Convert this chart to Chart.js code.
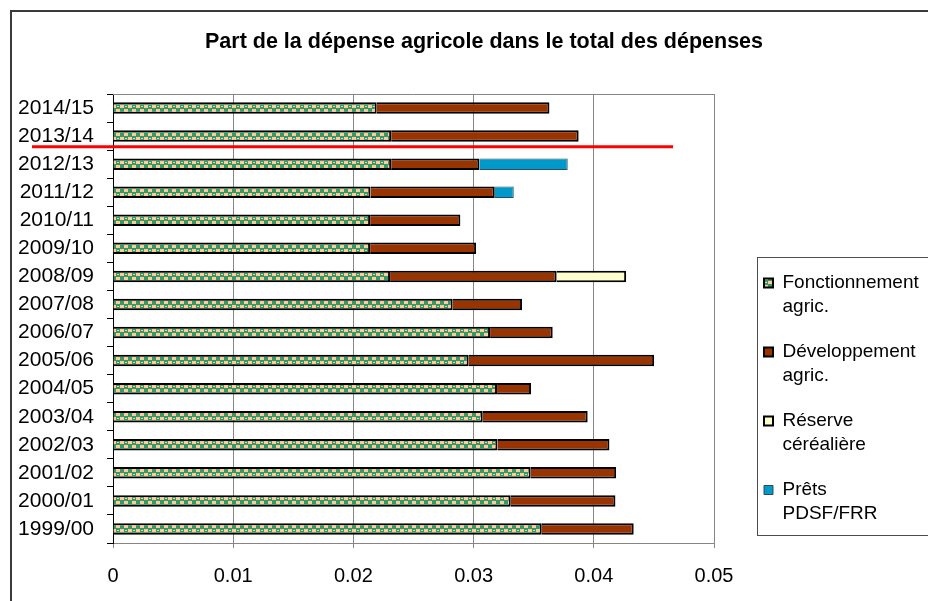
<!DOCTYPE html>
<html>
<head>
<meta charset="utf-8">
<script src="https://cdn.jsdelivr.net/npm/chart.js@4.4.1/dist/chart.umd.min.js"></script>
<style>
  html, body { margin: 0; padding: 0; background: #ffffff; }
  #wrap { width: 928px; height: 601px; }
</style>
</head>
<body>
<div id="wrap"><canvas id="chart" width="928" height="601"></canvas></div>
<script>
// Fiscal years, oldest first (the axis is reversed so the latest year sits on top)
const years = ['1999/00', '2000/01', '2001/02', '2002/03', '2003/04', '2004/05', '2005/06', '2006/07',
               '2007/08', '2008/09', '2009/10', '2010/11', '2011/12', '2012/13', '2013/14', '2014/15'];

// Share of total spending, per component
const fonctionnement = [0.03567, 0.03309, 0.03475, 0.03198, 0.03076, 0.03195, 0.02959, 0.03137,
                        0.02826, 0.02305, 0.02139, 0.02139, 0.02141, 0.02314, 0.02314, 0.02194];
const developpement  = [0.00765, 0.00871, 0.00711, 0.00932, 0.00873, 0.00283, 0.01543, 0.00521,
                        0.00577, 0.01386, 0.00882, 0.00751, 0.01035, 0.00734, 0.01560, 0.01437];
const reserve        = [null, null, null, null, null, null, null, null,
                        null, 0.00578, null, null, null, null, null, null];
const prets          = [null, null, null, null, null, null, null, null,
                        null, null, null, null, 0.00158, 0.00735, null, null];

const seriesNames = [
  ['Fonctionnement', 'agric.'],
  ['Développement', 'agric.'],
  ['Réserve', 'céréalière'],
  ['Prêts', 'PDSF/FRR']
];

const xTickLabels = ['0', '0.01', '0.02', '0.03', '0.04', '0.05'];

// Break marker between 2012/13 and 2013/14 (category position, and where it stops on the value axis)
const breakPosition = 13.62;
const breakEndValue = 0.0466;

const FONT = '"Liberation Sans", Arial, Helvetica, sans-serif';

// Green / peach checker fill for the operating-expense series
function checkerFill() {
  const tile = document.createElement('canvas');
  tile.width = 8; tile.height = 8;
  const g = tile.getContext('2d');
  g.fillStyle = '#339966';
  g.fillRect(0, 0, 8, 8);
  g.fillStyle = '#FFCC99';
  g.fillRect(0, 1, 4, 3);
  g.fillRect(4, 5, 4, 3);
  g.fillRect(5, 2, 2, 1);
  return document.getElementById('chart').getContext('2d').createPattern(tile, 'repeat');
}

const pageBackground = {
  id: 'pageBackground',
  beforeDraw(chart) {
    const ctx = chart.ctx;
    ctx.save();
    ctx.fillStyle = '#ffffff';
    ctx.fillRect(0, 0, chart.width, chart.height);
    // outer frame
    ctx.strokeStyle = '#3a3a3a';
    ctx.lineWidth = 2;
    ctx.strokeRect(11, 11, 1000, 700);
    // legend frame
    ctx.strokeStyle = '#4d4d4d';
    ctx.lineWidth = 1;
    ctx.strokeRect(757.5, 257.5, 300, 278);
    ctx.restore();
  }
};

const plotTopEdge = {
  id: 'plotTopEdge',
  beforeDatasetsDraw(chart) {
    const {ctx, chartArea} = chart;
    ctx.save();
    ctx.strokeStyle = '#868686';
    ctx.lineWidth = 1;
    ctx.beginPath();
    ctx.moveTo(chartArea.left, chartArea.top + 0.5);
    ctx.lineTo(chartArea.right, chartArea.top + 0.5);
    ctx.stroke();
    ctx.restore();
  }
};

// Place the title band and the legend block after the layout pass
const blockPlacement = {
  id: 'blockPlacement',
  afterLayout(chart) {
    const tb = chart.titleBlock;
    tb.left = 84;
    tb.right = 884;
    tb.width = tb.right - tb.left;

    const lg = chart.legend;
    const h = lg.height;
    lg.left = 743;
    lg.top = 252.5;
    lg.right = chart.width;
    lg.width = lg.right - lg.left;
    lg.bottom = lg.top + h;
  }
};

const breakLine = {
  id: 'breakLine',
  afterDraw(chart) {
    const {ctx, scales} = chart;
    const py = scales.y.getPixelForValue(breakPosition);
    const xEnd = scales.x.getPixelForValue(breakEndValue);
    ctx.save();
    ctx.strokeStyle = '#FF0000';
    ctx.lineWidth = 3;
    ctx.beginPath();
    ctx.moveTo(32, py);
    ctx.lineTo(xEnd, py);
    ctx.stroke();
    ctx.restore();
  }
};

new Chart(document.getElementById('chart'), {
  type: 'bar',
  data: {
    labels: years,
    datasets: [
      { label: seriesNames[0].join(' '), data: fonctionnement, backgroundColor: checkerFill(),
        borderColor: '#000000', borderWidth: 2 },
      { label: seriesNames[1].join(' '), data: developpement, backgroundColor: '#993300',
        borderColor: '#000000', borderWidth: 2 },
      { label: seriesNames[2].join(' '), data: reserve, backgroundColor: '#FFFFCC',
        borderColor: '#000000', borderWidth: 2 },
      { label: seriesNames[3].join(' '), data: prets, backgroundColor: '#0099CC',
        borderColor: '#2a4d5c', borderWidth: 1 }
    ]
  },
  options: {
    indexAxis: 'y',
    responsive: false,
    animation: false,
    devicePixelRatio: 1,
    datasets: {
      bar: { barPercentage: 0.41, categoryPercentage: 1, borderSkipped: 'start', inflateAmount: 0 }
    },
    layout: { padding: { left: 0, right: 44, top: 0, bottom: 0 } },
    scales: {
      x: {
        stacked: true,
        min: 0,
        max: 0.05,
        ticks: {
          stepSize: 0.01,
          color: '#000000',
          font: { family: FONT, size: 20 },
          padding: 16,
          callback: (v, i) => xTickLabels[i]
        },
        grid: { color: '#868686', lineWidth: 1, tickLength: 5 },
        border: { color: '#868686', width: 1 },
        afterFit(scale) { scale.height = 58; }
      },
      y: {
        stacked: true,
        reverse: true,
        ticks: { color: '#000000', font: { family: FONT, size: 21 }, padding: 13, autoSkip: false },
        grid: { drawOnChartArea: false, color: '#000000', tickLength: 6, offset: true },
        border: { color: '#000000', width: 1 },
        afterFit(scale) { scale.width = 113; }
      }
    },
    plugins: {
      title: {
        display: true,
        text: 'Part de la dépense agricole dans le total des dépenses',
        color: '#000000',
        font: { family: FONT, size: 21.5, weight: 'bold', lineHeight: 1.2 },
        padding: { top: 29.1, bottom: 39.1 }
      },
      legend: {
        position: 'right',
        align: 'start',
        maxWidth: 170,
        labels: {
          boxWidth: 9,
          boxHeight: 9,
          padding: 21,
          color: '#000000',
          font: { family: FONT, size: 19, lineHeight: 24 / 19 },
          generateLabels(chart) {
            const items = Chart.defaults.plugins.legend.labels.generateLabels(chart);
            items.forEach((it, i) => { it.text = seriesNames[i]; });
            return items;
          }
        }
      },
      tooltip: { enabled: false }
    }
  },
  plugins: [pageBackground, plotTopEdge, blockPlacement, breakLine]
});
</script>
</body>
</html>
